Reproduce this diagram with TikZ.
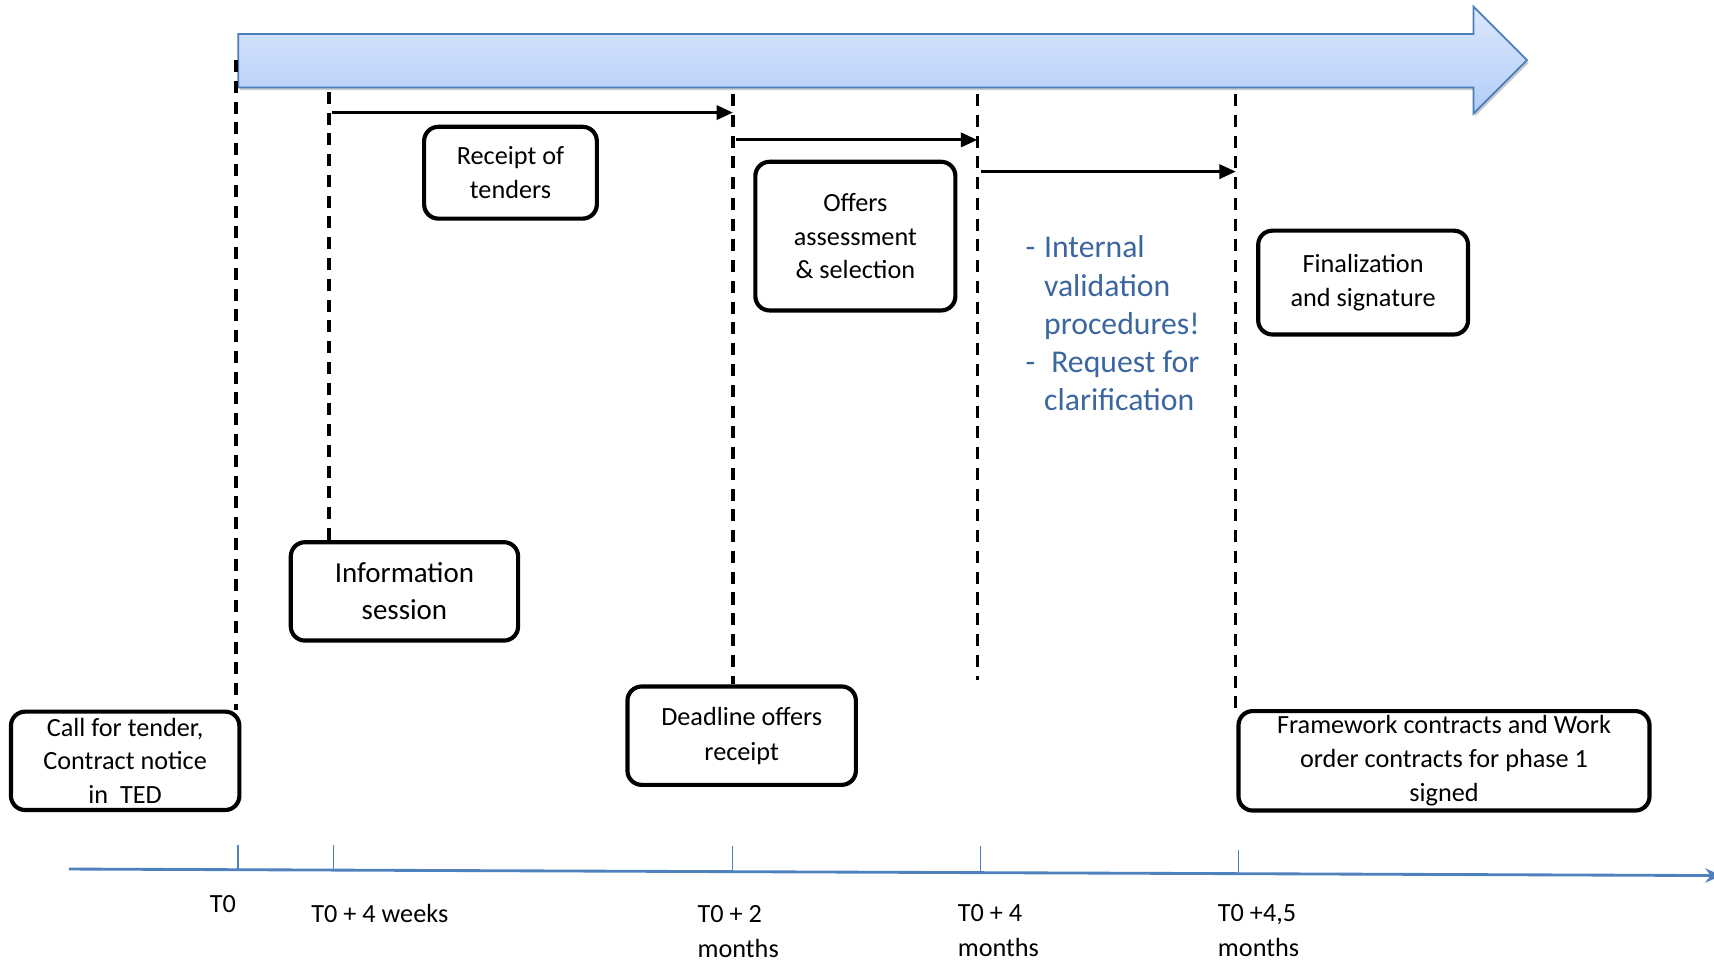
\documentclass[tikz,border=0pt]{standalone}
\usepackage{fontspec}
\setmainfont{Carlito}
\usetikzlibrary{arrows.meta}
\definecolor{arrowedge}{HTML}{4A7EBB}
\definecolor{arrowtop}{HTML}{DCE8FD}
\definecolor{arrowbot}{HTML}{B2CCF8}
\definecolor{notes}{HTML}{3C66A0}
\definecolor{axisblue}{HTML}{4F81BD}
\tikzset{
  stage/.style={draw=black, line width=3.8pt, rounded corners=13pt, fill=white,
    align=center, inner sep=0pt, font=\fontsize{24}{31}\selectfont},
  guide/.style={draw=black, line width=3pt, dash pattern=on 11pt off 8pt},
  span/.style={draw=black, line width=2.8pt, -{Triangle[length=15pt,width=13pt]}},
  axisline/.style={draw=axisblue, line width=2.6pt, -{Stealth[length=15pt,width=13pt]}},
  tickline/.style={draw=axisblue, line width=1.6pt},
  stamp/.style={font=\fontsize{24}{32}\selectfont, align=left, inner sep=0pt},
}
\begin{document}
\begin{tikzpicture}[x=1pt,y=-1pt]
\clip (0,0) rectangle (1568,881);

% big process arrow with a soft shadow
\begin{scope}[shift={(1.5,2.5)}]
  \fill[black!45, opacity=0.45] (218,31) -- (1348,31) -- (1348,6) -- (1397,55)
    -- (1348,104) -- (1348,80) -- (218,80) -- cycle;
\end{scope}
\draw[draw=arrowedge, line width=1.6pt, top color=arrowtop, bottom color=arrowbot]
  (218,31) -- (1348,31) -- (1348,6) -- (1397,55) -- (1348,104) -- (1348,80) -- (218,80) -- cycle;

% stage boxes
\node[stage, minimum width=209pt, minimum height=90pt] (call) at (114.5,696)
  {Call for tender,\\Contract notice\\in\ \ TED};
\node[stage, minimum width=158pt, minimum height=84pt] (receipt) at (467,158)
  {Receipt of\\tenders};
\node[stage, minimum width=208pt, minimum height=90pt, font=\fontsize{26.5}{34}\selectfont] (info) at (370,541)
  {Information\\session};
\node[stage, minimum width=209pt, minimum height=90pt, font=\fontsize{24}{32}\selectfont] (deadline) at (678.5,673)
  {Deadline offers\\receipt};
\node[stage, minimum width=183pt, minimum height=136pt] (offers) at (782.5,216)
  {Offers\\assessment\\\&\ selection};
\node[stage, minimum width=192pt, minimum height=95pt] (final) at (1247,258.5)
  {Finalization\\and signature};
\node[stage, minimum width=376pt, minimum height=91pt] (frame) at (1321,696)
  {Framework contracts and Work\\order contracts for phase 1\\signed};

% dashed milestone guides
\coordinate (g1) at (216,55);
\coordinate (g2) at (301,84);
\coordinate (g3) at (670.5,86);
\coordinate (g4) at (894.5,86);
\coordinate (g4end) at (894.5,622);
\coordinate (g5) at (1130.5,86);
\draw[guide] (g1) -- (g1 |- call.north);
\draw[guide] (g2) -- (g2 |- info.north);
\draw[guide] (g3) -- (g3 |- deadline.north);
\draw[guide] (g4) -- (g4end);
\draw[guide] (g5) -- (g5 |- frame.north);

% durations between milestones
\coordinate (s1a) at (304,103);
\coordinate (s1b) at (670.5,103);
\coordinate (s2a) at (673,128);
\coordinate (s2b) at (894,128);
\coordinate (s3a) at (897,157);
\coordinate (s3b) at (1130.5,157);
\draw[span] (s1a) -- (s1b);
\draw[span] (s2a) -- (s2b);
\draw[span] (s3a) -- (s3b);

% notes for the validation period
\node[anchor=west, align=left, inner sep=0pt, text=notes,
      font=\fontsize{29}{35}\selectfont] (notes) at (938,296)
  {\makebox[17pt][l]{-}Internal\\
   \hspace*{17pt}validation\\
   \hspace*{17pt}procedures!\\
   \makebox[17pt][l]{-}\ Request for\\
   \hspace*{17pt}clarification};

% time axis
\coordinate (ax0) at (63,795);
\coordinate (ax1) at (1575,801);
\draw[axisline] (ax0) -- (ax1);
\coordinate (k0a) at (218,773);  \coordinate (k0b) at (218,795);
\coordinate (k1a) at (305,773);  \coordinate (k1b) at (305,795);
\coordinate (k2a) at (670,774);  \coordinate (k2b) at (670,797);
\coordinate (k3a) at (897,774);  \coordinate (k3b) at (897,798);
\coordinate (k4a) at (1133,778); \coordinate (k4b) at (1133,799);
\draw[tickline] (k0a) -- (k0b);
\draw[tickline] (k1a) -- (k1b);
\draw[tickline] (k2a) -- (k2b);
\draw[tickline] (k3a) -- (k3b);
\draw[tickline] (k4a) -- (k4b);

% time labels
\node[stamp] (l0) at (204,827) {T0};
\node[stamp] (l1) at (347.5,836) {T0 + 4 weeks};
\node[stamp, anchor=west] (l2) at (638,852) {T0 + 2\\months};
\node[stamp, anchor=west] (l3) at (876,851) {T0 + 4\\months};
\node[stamp, anchor=west] (l4) at (1114,851.5) {T0 +4,5\\months};
\end{tikzpicture}
\end{document}
